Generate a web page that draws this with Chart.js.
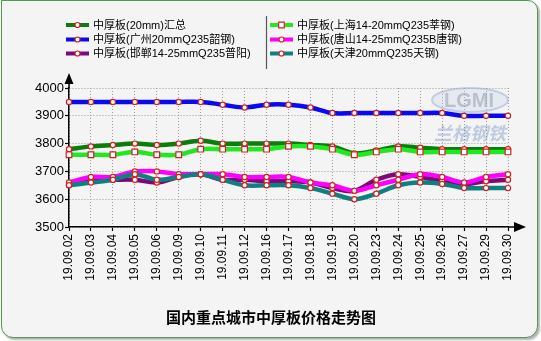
<!DOCTYPE html>
<html><head><meta charset="utf-8">
<script src="https://cdn.jsdelivr.net/npm/chart.js@4"></script>
<style>
html,body{margin:0;padding:0;background:#fff;}
#frame{position:absolute;left:1px;top:0px;width:535px;height:336px;border:1px solid #4f9a4f;border-radius:0 10px 12px 12px;background:#f4f4f4;box-shadow:2px 2px 2px rgba(0,0,0,0.3);}
#c{position:absolute;left:0;top:0;}
</style></head><body>
<div id="frame"></div>
<canvas id="c" width="541" height="341"></canvas>
<script>
const dates = ['19.09.02','19.09.03','19.09.04','19.09.05','19.09.06','19.09.09','19.09.10','19.09.11','19.09.12','19.09.16','19.09.17','19.09.18','19.09.19','19.09.20','19.09.23','19.09.24','19.09.25','19.09.26','19.09.27','19.09.29','19.09.30'];
const yTicks = [3500,3600,3700,3800,3900,4000];
const chartTitle = '国内重点城市中厚板价格走势图';
const labels = ['中厚板(20mm)汇总','中厚板(广州20mmQ235韶钢)','中厚板(邯郸14-25mmQ235普阳)','中厚板(上海14-20mmQ235莘钢)','中厚板(唐山14-25mmQ235B唐钢)','中厚板(天津20mmQ235天钢)'];
const huizong  = [3780,3790,3795,3800,3795,3800,3810,3800,3800,3800,3800,3795,3790,3765,3775,3790,3785,3780,3780,3780,3780];
const guangzhou= [3950,3950,3950,3950,3950,3950,3950,3940,3930,3940,3940,3930,3910,3910,3910,3910,3910,3910,3900,3900,3900];
const handan   = [3650,3670,3670,3670,3660,3680,3690,3670,3670,3665,3665,3660,3640,3630,3670,3690,3680,3665,3655,3665,3670];
const shanghai = [3760,3760,3760,3770,3760,3760,3780,3780,3780,3780,3790,3790,3780,3760,3770,3780,3770,3770,3770,3770,3770];
const tangshan = [3660,3680,3680,3700,3700,3690,3690,3690,3680,3680,3680,3660,3650,3630,3650,3670,3690,3680,3660,3680,3690];
const tianjin  = [3650,3660,3670,3690,3670,3680,3690,3670,3650,3650,3650,3640,3620,3600,3620,3650,3660,3655,3640,3640,3640];

const FONT = '"Liberation Sans", Arial, "Noto Sans CJK SC", sans-serif';
const colors = ['#0b7d0b','#0a0af0','#7a0a7a','#22e822','#ff00ff','#0e8080'];
const styles = ['circle','circle','circle','rect','circle','circle'];
const seriesData = [huizong,guangzhou,handan,shanghai,tangshan,tianjin];

const datasets = seriesData.map((d,i)=>({
  label: labels[i], data: d,
  borderColor: colors[i], backgroundColor: colors[i],
  borderWidth: 4.5, tension: 0.35, fill:false,
  pointStyle: styles[i], pointRadius: styles[i]==='rect'?4:2.6,
  pointBorderColor:'#d42020', pointBackgroundColor:'#ffffff', pointBorderWidth:1.2,
  order: 6-i
}));

const decor = {
  id:'decor',
  beforeDatasetsDraw(chart){
    const ctx = chart.ctx;
    ctx.save();
    ctx.beginPath();
    ctx.ellipse(470,100,38,12,0,0,Math.PI*2);
    ctx.fillStyle='rgba(200,212,232,0.3)';
    ctx.fill();
    ctx.lineWidth=2; ctx.strokeStyle='rgba(150,172,210,0.5)'; ctx.stroke();
    ctx.font='bold 20px '+FONT; ctx.textAlign='center'; ctx.textBaseline='middle';
    ctx.fillStyle='rgba(140,150,170,0.5)';
    ctx.fillText('LGMI',469,101);
    ctx.font='italic bold 18px "Noto Sans CJK SC", sans-serif';
    ctx.fillStyle='rgba(110,140,195,0.4)';
    ctx.fillText('兰格钢铁',470,133);
    ctx.restore();
  },
  afterDraw(chart){
    const ctx = chart.ctx, a = chart.chartArea;
    ctx.save();
    ctx.strokeStyle='#000'; ctx.fillStyle='#000'; ctx.lineWidth=1.5;
    ctx.beginPath(); ctx.moveTo(a.left,a.top); ctx.lineTo(a.left,80); ctx.stroke();
    ctx.beginPath(); ctx.moveTo(a.left,73); ctx.lineTo(a.left-4.5,84); ctx.lineTo(a.left+4.5,84); ctx.closePath(); ctx.fill();
    ctx.beginPath(); ctx.moveTo(a.right,a.bottom); ctx.lineTo(518,a.bottom); ctx.stroke();
    ctx.beginPath(); ctx.moveTo(526,a.bottom); ctx.lineTo(514,a.bottom-5); ctx.lineTo(514,a.bottom+5); ctx.closePath(); ctx.fill();
    const rows=[25,39.5,53.5];
    const cols=[{lx:66,tx:93},{lx:270,tx:297}];
    ctx.font='11px '+FONT; ctx.textBaseline='middle'; ctx.textAlign='left';
    chart.data.datasets.forEach((ds,i)=>{
      const c=cols[Math.floor(i/3)], y=rows[i%3];
      ctx.strokeStyle=ds.borderColor; ctx.lineWidth=4;
      ctx.beginPath(); ctx.moveTo(c.lx,y); ctx.lineTo(c.lx+23,y); ctx.stroke();
      ctx.fillStyle='#fff'; ctx.strokeStyle='#d42020'; ctx.lineWidth=1.2;
      const mx=c.lx+11.5;
      ctx.beginPath();
      if(ds.pointStyle==='rect'){ ctx.rect(mx-2.8,y-2.8,5.6,5.6);} else { ctx.arc(mx,y,2.5,0,Math.PI*2);}
      ctx.fill(); ctx.stroke();
      ctx.fillStyle='#000';
      ctx.fillText(ds.label,c.tx,y+0.5);
    });
    ctx.strokeStyle='#555'; ctx.lineWidth=1.2;
    ctx.beginPath(); ctx.moveTo(266.5,16); ctx.lineTo(266.5,69); ctx.stroke();
    ctx.font='bold 15px "Noto Sans CJK SC", '+FONT; ctx.textAlign='center'; ctx.fillStyle='#000';
    ctx.fillText(chartTitle,271,317);
    ctx.restore();
  }
};

new Chart(document.getElementById('c'),{
  type:'line',
  data:{labels:dates,datasets},
  options:{
    responsive:false, animation:false, devicePixelRatio:1,
    layout:{padding:{top:88,right:33,left:0,bottom:0}},
    plugins:{legend:{display:false},tooltip:{enabled:false},title:{display:false}},
    scales:{
      x:{type:'category',offset:false,
        grid:{color:'#9a9a9a',lineWidth:1,tickColor:'#000',tickLength:4,tickWidth:1.2},
        border:{display:true,color:'#000',width:1.5,dash:[1,2]},
        ticks:{autoSkip:false,maxRotation:90,minRotation:90,padding:3,color:'#000',font:{size:12,family:FONT}},
        afterFit(s){s.height=114;}
      },
      y:{min:3500,max:4000,
        afterBuildTicks(s){s.ticks=yTicks.map(v=>({value:v}));},
        grid:{color:'#9a9a9a',lineWidth:1,tickColor:'#000',tickLength:4,tickWidth:1.2},
        border:{display:true,color:'#000',width:1.5,dash:[1,2]},
        ticks:{padding:1,color:'#000',font:{size:13,family:FONT},callback:v=>String(v)},
        afterFit(s){s.width=69;}
      }
    }
  },
  plugins:[decor]
});
</script>
</body></html>
